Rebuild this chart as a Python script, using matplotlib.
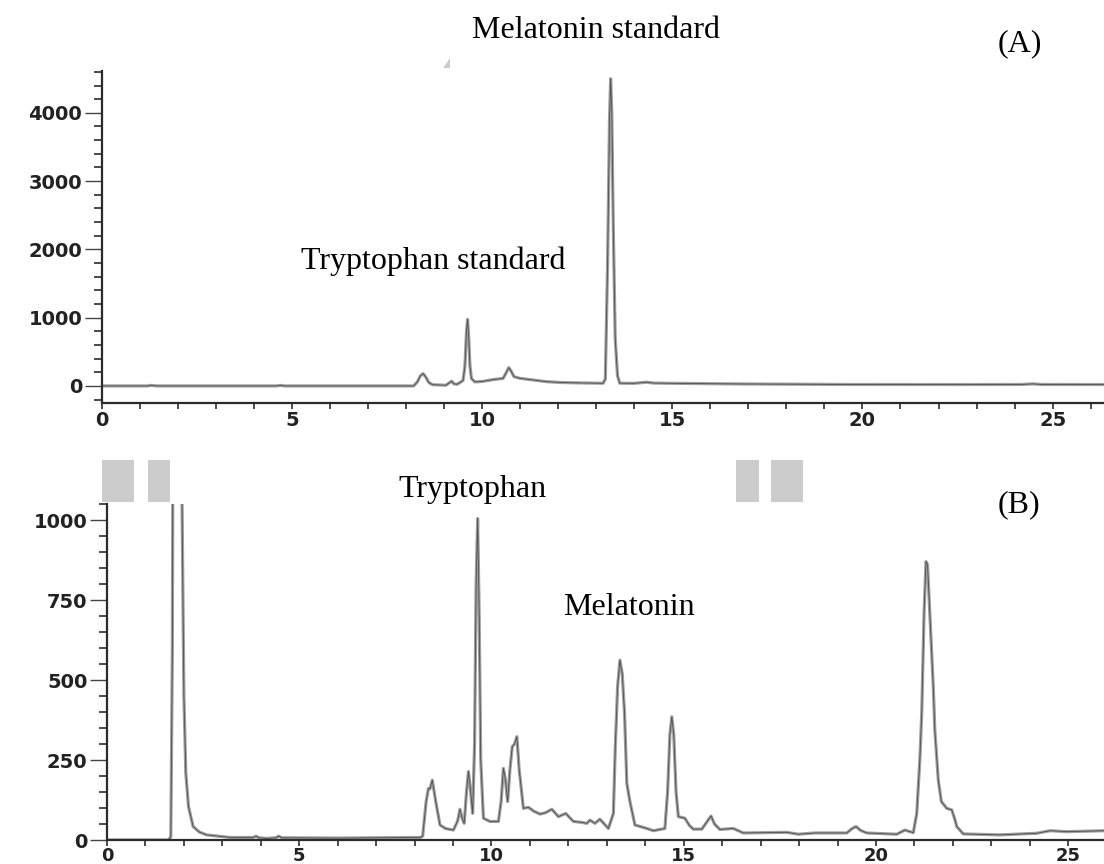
import matplotlib
matplotlib.use('Agg')
import matplotlib.pyplot as plt
from matplotlib.ticker import MultipleLocator
from matplotlib.patches import Rectangle, Polygon

# ---------------- data ----------------
# Panel A: standards
time_a = [0, 1.2, 1.3, 1.45, 4.6, 4.7, 4.8, 8.20, 8.30, 8.38, 8.45, 8.52, 8.60, 8.70,
          9.05, 9.15, 9.20, 9.26, 9.35, 9.50, 9.55, 9.59, 9.62, 9.65, 9.68, 9.72, 9.81,
          10.0, 10.29, 10.55, 10.64, 10.70, 10.76, 10.84, 10.99, 11.3, 11.70, 12.1, 12.57,
          13.18, 13.24, 13.30, 13.35, 13.38, 13.41, 13.45, 13.50, 13.56, 13.62, 14.0,
          14.32, 14.5, 15.02, 16.78, 19.4, 22.47, 24.2, 24.48, 24.7, 26.4]
signal_a = [0, 0, 8, 0, 0, 8, 0, 0, 60, 150, 180, 130, 50, 18,
            10, 50, 70, 30, 25, 80, 300, 800, 976, 700, 300, 110, 59,
            65, 93, 110, 200, 268, 220, 135, 112, 90, 62, 50, 44,
            39, 100, 1800, 3900, 4500, 4000, 2300, 700, 150, 40, 38,
            55, 42, 38, 29, 22, 20, 22, 30, 22, 20]

# Panel B: sample
time_b = [0, 1.60, 1.66, 1.70, 1.72, 1.80, 1.90, 1.94, 2.00, 2.05, 2.12, 2.24, 2.40, 2.59,
          3.2, 3.8, 3.88, 3.95, 4.15, 4.40, 4.46, 4.55, 6.0, 8.15, 8.21, 8.30, 8.36, 8.40,
          8.46, 8.55, 8.66, 8.80, 9.01, 9.12, 9.18, 9.23, 9.29, 9.35, 9.40, 9.45, 9.51,
          9.56, 9.60, 9.64, 9.68, 9.72, 9.79, 9.96, 10.18, 10.25, 10.31, 10.36, 10.42,
          10.48, 10.54, 10.60, 10.66, 10.72, 10.83, 10.96, 11.10, 11.26, 11.40, 11.57,
          11.74, 11.93, 12.13, 12.35, 12.48, 12.56, 12.69, 12.82, 13.04, 13.17, 13.22,
          13.28, 13.34, 13.40, 13.46, 13.52, 13.60, 13.73, 14.04, 14.21, 14.51, 14.58,
          14.64, 14.69, 14.74, 14.80, 14.86, 15.03, 15.15, 15.25, 15.47, 15.62, 15.71,
          15.80, 15.94, 16.29, 16.55, 17.68, 17.98, 18.41, 19.24, 19.37, 19.48, 19.60,
          19.76, 20.54, 20.75, 20.97, 21.06, 21.14, 21.19, 21.25, 21.30, 21.34, 21.40,
          21.49, 21.53, 21.62, 21.70, 21.84, 21.97, 22.05, 22.10, 22.27, 23.22, 24.18,
          24.53, 24.96, 25.93]
signal_b = [0, 0, 10, 600, 1500, 2500, 2000, 1200, 450, 208, 104, 42, 25, 16,
            8, 8, 12, 7, 5, 7, 12, 7, 6, 8, 12, 120, 161, 160,
            187, 120, 47, 36, 31, 60, 96, 70, 52, 150, 214, 160, 83,
            300, 800, 1005, 700, 250, 68, 58, 58, 120, 224, 190, 120,
            220, 292, 300, 323, 220, 99, 102, 90, 81, 85, 96,
            73, 83, 58, 55, 52, 62, 52, 65, 36, 83, 292,
            480, 562, 520, 396, 177, 120, 47, 36, 29, 36, 150,
            330, 385, 330, 150, 73, 68, 45, 34, 34, 60, 75,
            50, 33, 36, 22, 24, 18, 22, 22, 35, 42, 30,
            22, 18, 31, 23, 83, 250, 396, 708, 870, 860, 708,
            479, 344, 187, 120, 99, 94, 65, 42, 19, 16, 21,
            29, 26, 29]

yticks_a = [0, 1000, 2000, 3000, 4000]
yticks_b = [0, 250, 500, 750, 1000]
xticks = [0, 5, 10, 15, 20, 25]

labels = {
    'mel_std': 'Melatonin standard',
    'trp_std': 'Tryptophan standard',
    'trp': 'Tryptophan',
    'mel': 'Melatonin',
    'A': '(A)',
    'B': '(B)',
}

# ---------------- figure ----------------
W, H = 1104, 864
plt.rcParams['font.family'] = ['DejaVu Sans']
fig = plt.figure(figsize=(W / 100, H / 100), dpi=100)


def fx(px):
    return px / W


def fy(py):
    return 1 - py / H


axA = fig.add_axes([fx(101.7), fy(403), 1 - fx(101.7), fy(70.5) - fy(403)])
axB = fig.add_axes([fx(107), fy(840), 1 - fx(107), fy(504) - fy(840)])

dark = '#2b2b2b'
for ax, t, v in [(axA, time_a, signal_a), (axB, time_b, signal_b)]:
    ax.plot(t, v, color='#a0a0a0', lw=2.3, solid_joinstyle='round', solid_capstyle='round')
    ax.plot(t, v, color='#3a3a3a', lw=0.6, alpha=0.8)
    for s in ['top', 'right']:
        ax.spines[s].set_visible(False)
    for s in ['left', 'bottom']:
        ax.spines[s].set_linewidth(1.6)
        ax.spines[s].set_color(dark)
    ax.set_xticks(xticks)
    ax.xaxis.set_minor_locator(MultipleLocator(1))
    ax.tick_params(axis='y', which='major', length=12, width=1.0, color='#444444',
                   pad=2, labelsize=14, labelcolor='#222222')
    ax.tick_params(axis='y', which='minor', length=6, width=1.2, color=dark)
    ax.set_facecolor('white')

axA.tick_params(axis='x', which='both', length=4.5, width=1.2, color=dark,
                pad=1.5, labelsize=14, labelcolor='#222222')
axB.tick_params(axis='x', which='both', length=4.5, width=1.2, color=dark,
                pad=0.3, labelsize=13, labelcolor='#222222')

axA.set_xlim(0, 26.35)
axA.set_ylim(-250, 4620)
axA.set_yticks(yticks_a)
axA.yaxis.set_minor_locator(MultipleLocator(200))

axB.set_xlim(0, 25.93)
axB.set_ylim(0, 1050)
axB.set_yticks(yticks_b)
axB.yaxis.set_minor_locator(MultipleLocator(50))

for ax in (axA, axB):
    for lbl in ax.get_xticklabels() + ax.get_yticklabels():
        lbl.set_fontweight('bold')

# ---------------- annotations ----------------
serif = dict(fontfamily='Liberation Serif', fontsize=23, va='baseline', ha='left', color='black')
fig.text(fx(472), fy(38), labels['mel_std'], **serif)
fig.text(fx(998), fy(51), labels['A'], **serif)
fig.text(fx(301), fy(269), labels['trp_std'], **serif)
fig.text(fx(398), fy(497), labels['trp'], **serif)
fig.text(fx(998), fy(512), labels['B'], **serif)
fig.text(fx(563), fy(615), labels['mel'], **serif)

# grey masking boxes above panel B and small wedge in panel A
grey = '#cccccc'
for x0, x1 in [(102, 134), (148, 170), (736, 759), (771, 803)]:
    fig.add_artist(Rectangle((fx(x0), fy(502)), fx(x1) - fx(x0), fy(460) - fy(502),
                             transform=fig.transFigure, color=grey, lw=0))
fig.add_artist(Polygon([(fx(443), fy(68)), (fx(450), fy(68)), (fx(450), fy(58))],
                       closed=True, transform=fig.transFigure, color=grey, lw=0))

fig.savefig('out.png', dpi=100)
